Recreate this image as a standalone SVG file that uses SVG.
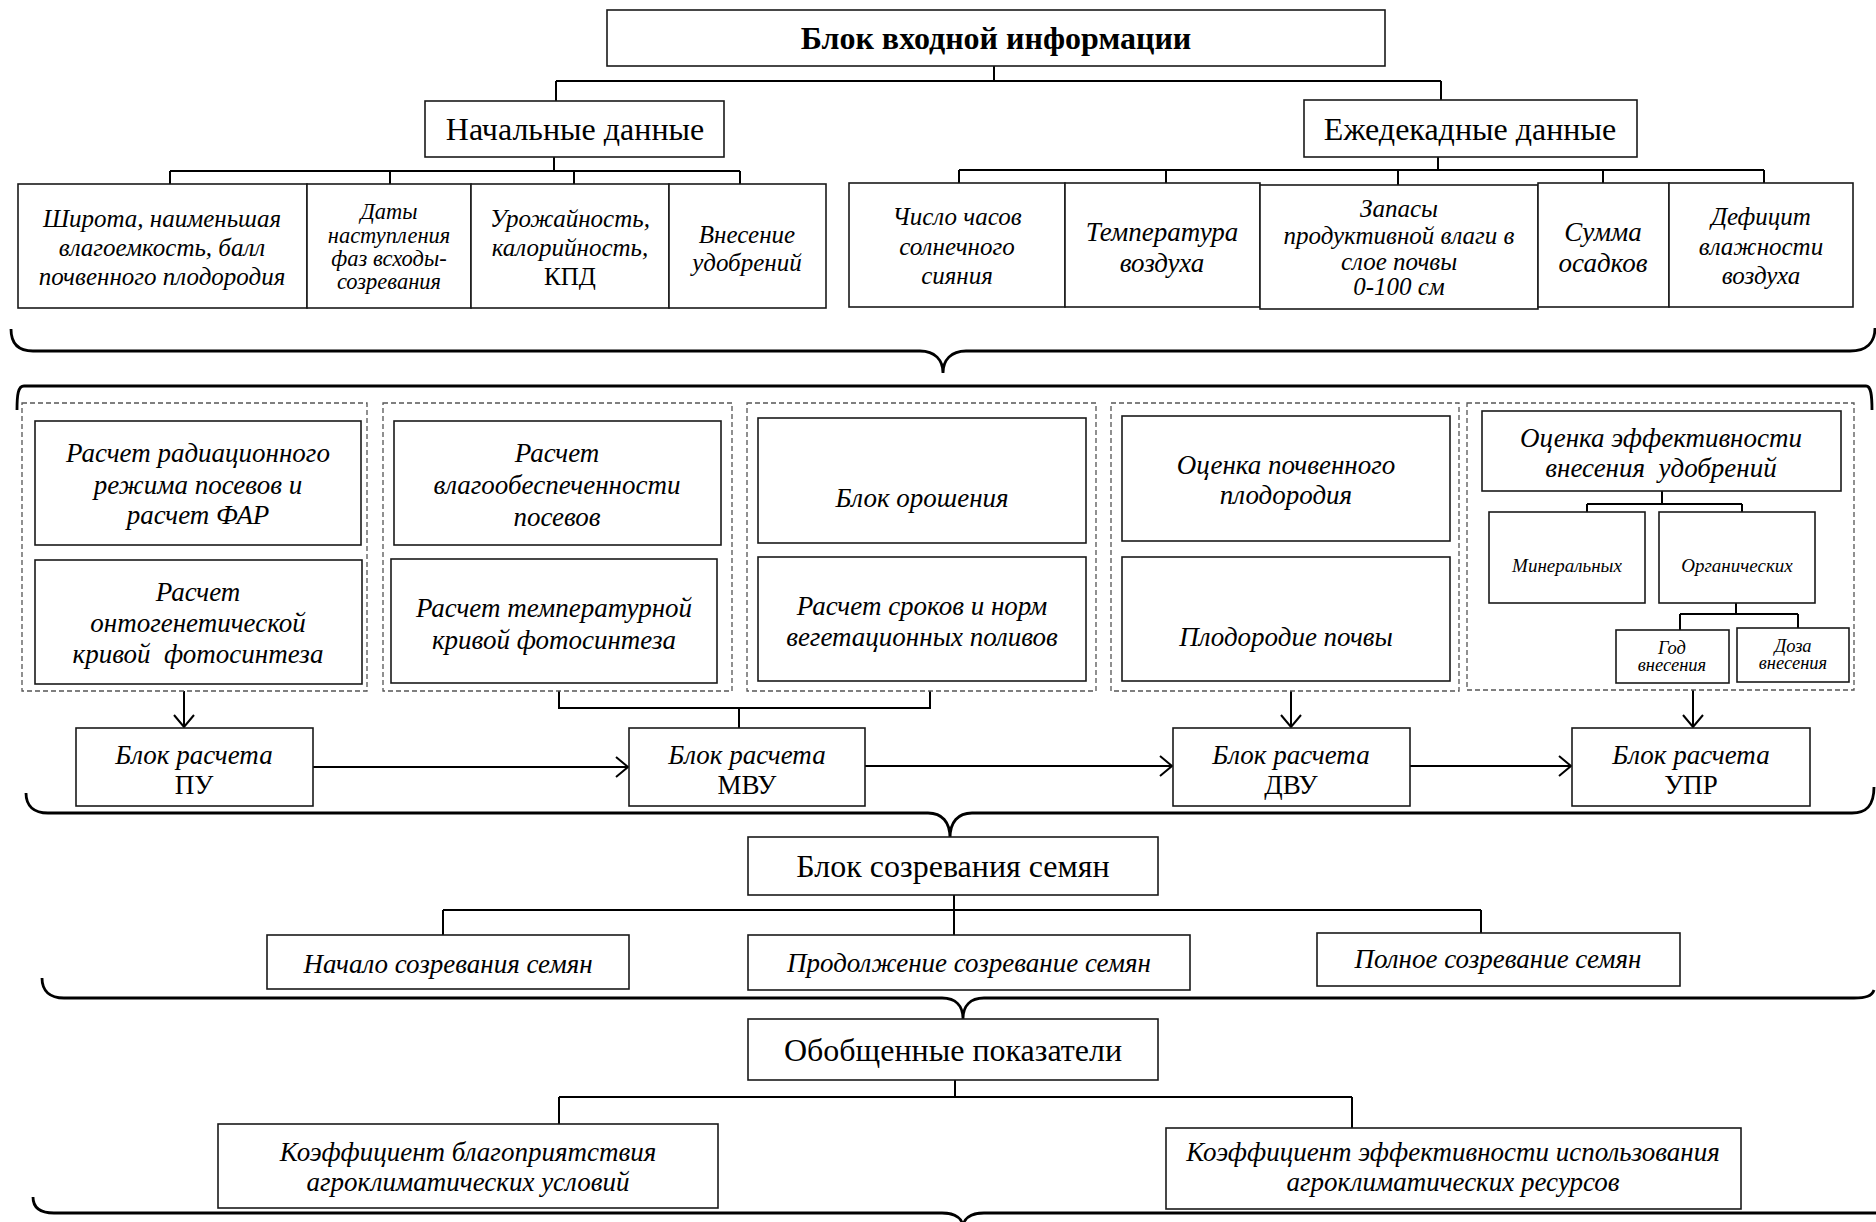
<svg xmlns="http://www.w3.org/2000/svg" width="1876" height="1222" viewBox="0 0 1876 1222">
<defs>
<style>
.box{fill:#fff;stroke:#1a1a1a;stroke-width:1.6}
.grp{fill:none;stroke:#555;stroke-width:1.3;stroke-dasharray:5 3}
.ln{fill:none;stroke:#000;stroke-width:2}
.br{fill:none;stroke:#000;stroke-width:2.8}
text{font-family:"Liberation Serif","Times New Roman",serif;fill:#000;text-anchor:middle}
.i{font-style:italic}
.b{font-weight:bold}
.s32{font-size:32px}
.s27{font-size:27px}
.s25{font-size:25px}
.s22{font-size:22.5px}
.s19{font-size:19px}
.s18{font-size:18.5px}
</style>
<marker id="ah" viewBox="0 0 14 22" refX="13" refY="11" markerWidth="14" markerHeight="22" markerUnits="userSpaceOnUse" orient="auto">
<path d="M1,1 L13,11 L1,21" fill="none" stroke="#000" stroke-width="2"/>
</marker>
</defs>
<rect width="1876" height="1222" fill="#fff"/>

<g id="connectors">
<path class="ln" d="M994,66 V81 M556,81 H1441 M556,81 V101 M1441,81 V100"/>
<path class="ln" d="M554,157 V171 M170,171 H740 M170,171 V184 M390,171 V184 M574,171 V184 M740,171 V184"/>
<path class="ln" d="M1438,157 V170 M959,170 H1764 M959,170 V183 M1166,170 V183 M1398,170 V185 M1603,170 V183 M1764,170 V183"/>
<path class="br" d="M11,329 C11,343 18,351 33,351 H920 C935,351 943,360 943,373 C943,360 951,351 966,351 H1850 C1866,351 1875,343 1875,328"/>
<path class="br" d="M17,410 C17,395 18,386 24,386 H1866 C1871,386 1872,395 1872,410"/>
<path class="br" d="M26,793 C26,806 34,813 48,813 H928 C942,813 950,822 950,838 C950,822 958,813 972,813 H1852 C1866,813 1874,806 1874,787"/>
<path class="ln" d="M1662,491 V504 M1587,504 H1742 M1587,504 V512 M1742,504 V512"/>
<path class="ln" d="M1736,603 V614 M1680,614 H1798 M1680,614 V630 M1798,614 V628"/>
<path class="ln" d="M559,691 V708 H930 V691 M739,708 V728"/>
<path class="ln" d="M184,691 V727" marker-end="url(#ah)"/>
<path class="ln" d="M1291,691 V727" marker-end="url(#ah)"/>
<path class="ln" d="M1693,690 V727" marker-end="url(#ah)"/>
<path class="ln" d="M313,767 H628" marker-end="url(#ah)"/>
<path class="ln" d="M865,766 H1172" marker-end="url(#ah)"/>
<path class="ln" d="M1410,766 H1571" marker-end="url(#ah)"/>
<path class="ln" d="M954,895 V935 M443,910 H1481 M443,910 V935 M1481,910 V933"/>
<path class="br" d="M42,978 C42,991 50,998 64,998 H942 C956,998 963,1006 963,1019 C963,1006 970,998 984,998 H1854 C1866,998 1872,996 1874,990"/>
<path class="ln" d="M955,1080 V1097 M559,1097 H1352 M559,1097 V1124 M1352,1097 V1128"/>
<path class="br" d="M33,1197 C33,1208 40,1213 54,1213 H942 C956,1213 963,1219 963,1228 C963,1219 970,1213 984,1213 H1876"/>
</g>

<g id="n-top"><rect class="box" x="607" y="10" width="778" height="56"/><text class="b s32" x="996" y="49">Блок входной информации</text></g>
<g id="n-initial"><rect class="box" x="425" y="101" width="299" height="56"/><text class="s32" x="575" y="140">Начальные данные</text></g>
<g id="n-decade"><rect class="box" x="1304" y="100" width="333" height="57"/><text class="s32" x="1470" y="140">Ежедекадные данные</text></g>

<g id="n-lat"><rect class="box" x="18" y="184" width="289" height="124"/><text class="i s25" x="162"><tspan x="162" y="227">Широта, наименьшая</tspan><tspan x="162" y="256">влагоемкость, балл</tspan><tspan x="162" y="285">почвенного плодородия</tspan></text></g>
<g id="n-dates"><rect class="box" x="307" y="184" width="164" height="124"/><text class="i s22" x="389"><tspan x="389" y="219">Даты</tspan><tspan x="389" y="243">наступления</tspan><tspan x="389" y="266">фаз всходы-</tspan><tspan x="389" y="289">созревания</tspan></text></g>
<g id="n-yield"><rect class="box" x="471" y="184" width="198" height="124"/><text class="i s25" x="570"><tspan x="570" y="227">Урожайность,</tspan><tspan x="570" y="256">калорийность,</tspan></text><text class="s25" x="570" y="285">КПД</text></g>
<g id="n-fert"><rect class="box" x="669" y="184" width="157" height="124"/><text class="i s25" x="747"><tspan x="747" y="243">Внесение</tspan><tspan x="747" y="271">удобрений</tspan></text></g>

<g id="n-sun"><rect class="box" x="849" y="183" width="216" height="124"/><text class="i s25" x="957"><tspan x="957" y="225">Число часов</tspan><tspan x="957" y="255">солнечного</tspan><tspan x="957" y="284">сияния</tspan></text></g>
<g id="n-temp"><rect class="box" x="1065" y="183" width="195" height="124"/><text class="i s27" x="1162"><tspan x="1162" y="241">Температура</tspan><tspan x="1162" y="272">воздуха</tspan></text></g>
<g id="n-moist"><rect class="box" x="1260" y="185" width="278" height="124"/><text class="i s25" x="1399"><tspan x="1399" y="217">Запасы</tspan><tspan x="1399" y="244">продуктивной влаги в</tspan><tspan x="1399" y="270">слое почвы</tspan><tspan x="1399" y="295">0-100 см</tspan></text></g>
<g id="n-prec"><rect class="box" x="1538" y="183" width="131" height="124"/><text class="i s27" x="1603"><tspan x="1603" y="241">Сумма</tspan><tspan x="1603" y="272">осадков</tspan></text></g>
<g id="n-def"><rect class="box" x="1669" y="183" width="184" height="124"/><text class="i s25" x="1761"><tspan x="1761" y="225">Дефицит</tspan><tspan x="1761" y="255">влажности</tspan><tspan x="1761" y="284">воздуха</tspan></text></g>

<g id="groups">
<rect class="grp" x="22" y="403" width="345" height="288"/>
<rect class="grp" x="383" y="403" width="349" height="288"/>
<rect class="grp" x="747" y="403" width="349" height="288"/>
<rect class="grp" x="1111" y="403" width="348" height="288"/>
<rect class="grp" x="1467" y="403" width="387" height="287"/>
</g>

<g id="n-rad"><rect class="box" x="35" y="421" width="326" height="124"/><text class="i s27" x="198"><tspan x="198" y="462">Расчет радиационного</tspan><tspan x="198" y="494">режима посевов и</tspan><tspan x="198" y="524">расчет ФАР</tspan></text></g>
<g id="n-onto"><rect class="box" x="35" y="560" width="327" height="124"/><text class="i s27" x="198" xml:space="preserve"><tspan x="198" y="601">Расчет</tspan><tspan x="198" y="632">онтогенетической</tspan><tspan x="198" y="663">кривой  фотосинтеза</tspan></text></g>
<g id="n-water"><rect class="box" x="394" y="421" width="327" height="124"/><text class="i s27" x="557"><tspan x="557" y="462">Расчет</tspan><tspan x="557" y="494">влагообеспеченности</tspan><tspan x="557" y="526">посевов</tspan></text></g>
<g id="n-tcurve"><rect class="box" x="391" y="559" width="326" height="124"/><text class="i s27" x="554"><tspan x="554" y="617">Расчет температурной</tspan><tspan x="554" y="649">кривой фотосинтеза</tspan></text></g>
<g id="n-irr"><rect class="box" x="758" y="418" width="328" height="125"/><text class="i s27" x="922" y="507">Блок орошения</text></g>
<g id="n-irrnorm"><rect class="box" x="758" y="557" width="328" height="124"/><text class="i s27" x="922"><tspan x="922" y="615">Расчет сроков и норм</tspan><tspan x="922" y="646">вегетационных поливов</tspan></text></g>
<g id="n-soil"><rect class="box" x="1122" y="416" width="328" height="125"/><text class="i s27" x="1286"><tspan x="1286" y="474">Оценка почвенного</tspan><tspan x="1286" y="504">плодородия</tspan></text></g>
<g id="n-fertility"><rect class="box" x="1122" y="557" width="328" height="124"/><text class="i s27" x="1286" y="646">Плодородие почвы</text></g>
<g id="n-feff"><rect class="box" x="1482" y="411" width="359" height="80"/><text class="i s27" x="1661" xml:space="preserve"><tspan x="1661" y="447">Оценка эффективности</tspan><tspan x="1661" y="477">внесения  удобрений</tspan></text></g>
<g id="n-min"><rect class="box" x="1489" y="512" width="156" height="91"/><text class="i s19" x="1567" y="572">Минеральных</text></g>
<g id="n-org"><rect class="box" x="1659" y="512" width="156" height="91"/><text class="i s19" x="1737" y="572">Органических</text></g>
<g id="n-year"><rect class="box" x="1616" y="630" width="113" height="53"/><text class="i s18" x="1672"><tspan x="1672" y="654">Год</tspan><tspan x="1672" y="671">внесения</tspan></text></g>
<g id="n-dose"><rect class="box" x="1737" y="628" width="112" height="54"/><text class="i s18" x="1793"><tspan x="1793" y="652">Доза</tspan><tspan x="1793" y="669">внесения</tspan></text></g>

<g id="n-pu"><rect class="box" x="76" y="728" width="237" height="78"/><text class="i s27" x="194" y="764">Блок расчета</text><text class="s27" x="194" y="794">ПУ</text></g>
<g id="n-mvu"><rect class="box" x="629" y="728" width="236" height="78"/><text class="i s27" x="747" y="764">Блок расчета</text><text class="s27" x="747" y="794">МВУ</text></g>
<g id="n-dvu"><rect class="box" x="1173" y="728" width="237" height="78"/><text class="i s27" x="1291" y="764">Блок расчета</text><text class="s27" x="1291" y="794">ДВУ</text></g>
<g id="n-upr"><rect class="box" x="1572" y="728" width="238" height="78"/><text class="i s27" x="1691" y="764">Блок расчета</text><text class="s27" x="1691" y="794">УПР</text></g>

<g id="n-ripe"><rect class="box" x="748" y="837" width="410" height="58"/><text class="s32" x="953" y="877">Блок созревания семян</text></g>
<g id="n-start"><rect class="box" x="267" y="935" width="362" height="54"/><text class="i s27" x="448" y="973">Начало созревания семян</text></g>
<g id="n-cont"><rect class="box" x="748" y="935" width="442" height="55"/><text class="i s27" x="969" y="972">Продолжение созревание семян</text></g>
<g id="n-full"><rect class="box" x="1317" y="933" width="363" height="53"/><text class="i s27" x="1498" y="968">Полное созревание семян</text></g>

<g id="n-gen"><rect class="box" x="748" y="1019" width="410" height="61"/><text class="s32" x="953" y="1061">Обобщенные показатели</text></g>
<g id="n-kfav"><rect class="box" x="218" y="1124" width="500" height="84"/><text class="i s27" x="468"><tspan x="468" y="1161">Коэффициент благоприятствия</tspan><tspan x="468" y="1191">агроклиматических условий</tspan></text></g>
<g id="n-keff"><rect class="box" x="1166" y="1128" width="575" height="81"/><text class="i s27" x="1453"><tspan x="1453" y="1161">Коэффициент эффективности использования</tspan><tspan x="1453" y="1191">агроклиматических ресурсов</tspan></text></g>
</svg>
